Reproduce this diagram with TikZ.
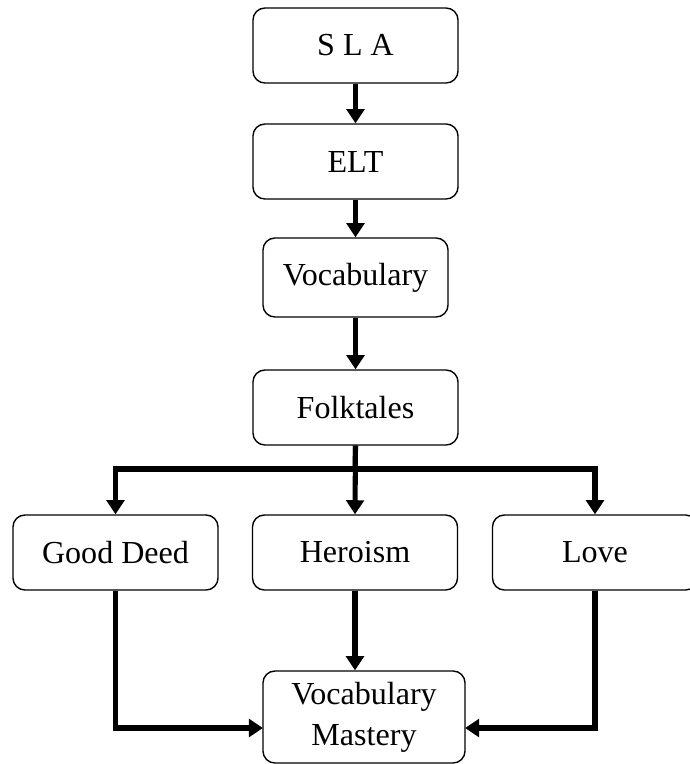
\documentclass[tikz,border=0pt]{standalone}
\usepackage{fontspec}
\setmainfont{Liberation Serif}
\usetikzlibrary{arrows.meta}
\tikzset{topicbox/.style={draw,line width=1pt,rounded corners=8.5pt,minimum width=5.125cm,minimum height=1.875cm,align=center,inner sep=2pt,font=\fontsize{22.8}{29}\selectfont}}

\begin{document}
\begin{tikzpicture}[x=0.025cm,y=-0.025cm,>={Triangle[width=12.5pt,length=10pt]},line width=3.6pt]
\useasboundingbox (0,0) rectangle (690,764);
\node[topicbox] (sla) at (355.5,45.5) {S L A}; %main chain
\node[topicbox] (elt) at (355.5,161.5) {ELT};
\node[topicbox,minimum width=4.625cm,minimum height=1.975cm] (vocab) at (355.5,277.5) {Vocabulary};
\node[topicbox] (folk) at (355.5,407.5) {Folktales};
\node[topicbox] (deed) at (115.5,552.5) {Good Deed}; %themes
\node[topicbox] (hero) at (355,552.5) {Heroism};
\node[topicbox] (love) at (595,552.5) {Love};
\node[topicbox,minimum width=5.05cm,minimum height=2.3cm] (mastery) at (364,717) {Vocabulary\\Mastery}; %result
\coordinate (split) at (355,469); %branch point
\coordinate (inL) at (263,728);
\coordinate (inR) at (465,728);
\draw[->] (sla) -- (elt);
\draw[->] (elt) -- (vocab);
\draw[->] (vocab) -- (folk);
\draw (folk.south) -- (split);
\draw[->] (split) -| (deed.north);
\draw[->] (split) -| (love.north);
\draw[->] (folk.south) -- (hero.north);
\draw[->] (hero.south) -- (hero.south |- mastery.north);
\draw[->] (deed.south) |- (inL);
\draw[->] (love.south) |- (inR);
\end{tikzpicture}
\end{document}
